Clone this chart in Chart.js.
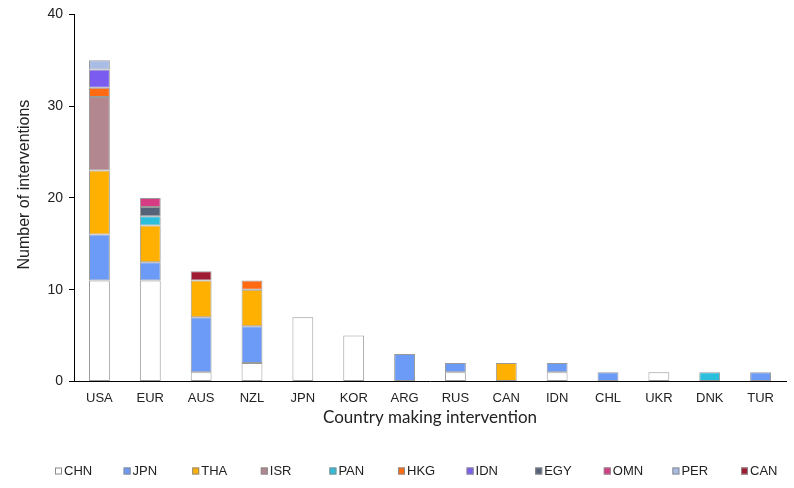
<!DOCTYPE html>
<html>
<head>
<meta charset="utf-8">
<script src="https://cdn.jsdelivr.net/npm/chart.js@4"></script>
<style>
  html, body { margin: 0; padding: 0; background: #fff; }
  #wrap { width: 794px; height: 488px; }
</style>
</head>
<body>
<div id="wrap"><canvas id="c" width="794" height="488"></canvas></div>
<script>
const categories = ['USA','EUR','AUS','NZL','JPN','KOR','ARG','RUS','CAN','IDN','CHL','UKR','DNK','TUR'];
const seriesNames = ['CHN','JPN','THA','ISR','PAN','HKG','IDN','EGY','OMN','PER','CAN'];
const CHN = [11,11,1,2,7,5,0,1,0,1,0,1,0,0];
const JPN = [5,2,6,4,0,0,3,1,0,1,1,0,0,1];
const THA = [7,4,4,4,0,0,0,0,2,0,0,0,0,0];
const ISR = [8,0,0,0,0,0,0,0,0,0,0,0,0,0];
const PAN = [0,1,0,0,0,0,0,0,0,0,0,0,1,0];
const HKG = [1,0,0,1,0,0,0,0,0,0,0,0,0,0];
const IDN = [2,0,0,0,0,0,0,0,0,0,0,0,0,0];
const EGY = [0,1,0,0,0,0,0,0,0,0,0,0,0,0];
const OMN = [0,1,0,0,0,0,0,0,0,0,0,0,0,0];
const PER = [1,0,0,0,0,0,0,0,0,0,0,0,0,0];
const CAN = [0,0,1,0,0,0,0,0,0,0,0,0,0,0];
const yTicks = [0,10,20,30,40];

const seriesValues = [CHN,JPN,THA,ISR,PAN,HKG,IDN,EGY,OMN,PER,CAN];
const colors = ['#FFFFFF','#6B9BF7','#FFB000','#B3878F','#2BBFDD','#FF6A12','#7B5CF0','#566278','#D63C84','#A9BCE5','#9E1B32'];

const datasets = seriesNames.map((n,i) => ({
  label: n,
  data: seriesValues[i].map(v => v === 0 ? null : v),
  backgroundColor: colors[i],
  borderColor: '#9A9A9A',
  borderWidth: 1,
  borderSkipped: false,
  barPercentage: 0.41,
  categoryPercentage: 1.0
}));

const legendPlugin = {
  id: 'customLegend',
  afterDraw(chart) {
    const ctx = chart.ctx;
    ctx.save();
    ctx.font = '13px "Liberation Sans", Arial, sans-serif';
    ctx.textBaseline = 'middle';
    ctx.textAlign = 'left';
    const startX = 55, step = 68.6, y = 471, box = 7;
    chart.data.datasets.forEach((ds, i) => {
      const x = startX + i * step;
      ctx.fillStyle = ds.backgroundColor;
      ctx.fillRect(x, y - box/2, box, box);
      ctx.strokeStyle = '#8A8A8A';
      ctx.lineWidth = 1;
      ctx.strokeRect(x + 0.5, y - box/2 + 0.5, box - 1, box - 1);
      ctx.fillStyle = '#222';
      ctx.fillText(ds.label, x + box + 2, y + 0.5);
    });
    ctx.restore();
  }
};

new Chart(document.getElementById('c'), {
  type: 'bar',
  data: { labels: categories, datasets },
  options: {
    responsive: false,
    animation: false,
    layout: { padding: { top: 10, right: 8, bottom: 56, left: 0 } },
    plugins: { legend: { display: false }, tooltip: { enabled: false } },
    scales: {
      x: {
        stacked: true,
        grid: { display: false },
        border: { display: true, color: '#000', width: 1 },
        ticks: { color: '#222', font: { family: '"Liberation Sans", Arial, sans-serif', size: 13 }, padding: 1, maxRotation: 0, autoSkip: false },
        title: { display: true, text: 'Country making intervention', color: '#222',
                 font: { family: 'Lato, "Open Sans", sans-serif', size: 17 }, padding: { top: 4, bottom: 4 } },
        afterFit(scale) { scale.height = 50.6; }
      },
      y: {
        stacked: true,
        min: 0, max: 40,
        afterBuildTicks(scale) { scale.ticks = yTicks.map(v => ({ value: v })); },
        grid: { display: true, drawOnChartArea: false, drawTicks: true, tickLength: 5, color: '#000' },
        border: { display: true, color: '#000', width: 1 },
        ticks: { color: '#222', font: { family: '"Liberation Sans", Arial, sans-serif', size: 14 }, padding: 6 },
        title: { display: true, text: '      Number of interventions', color: '#222',
                 font: { family: '"Liberation Sans", Arial, sans-serif', size: 16 }, padding: { top: 15, bottom: 0 } },
        afterFit(scale) { scale.width = 74; }
      }
    }
  },
  plugins: [legendPlugin]
});
</script>
</body>
</html>
